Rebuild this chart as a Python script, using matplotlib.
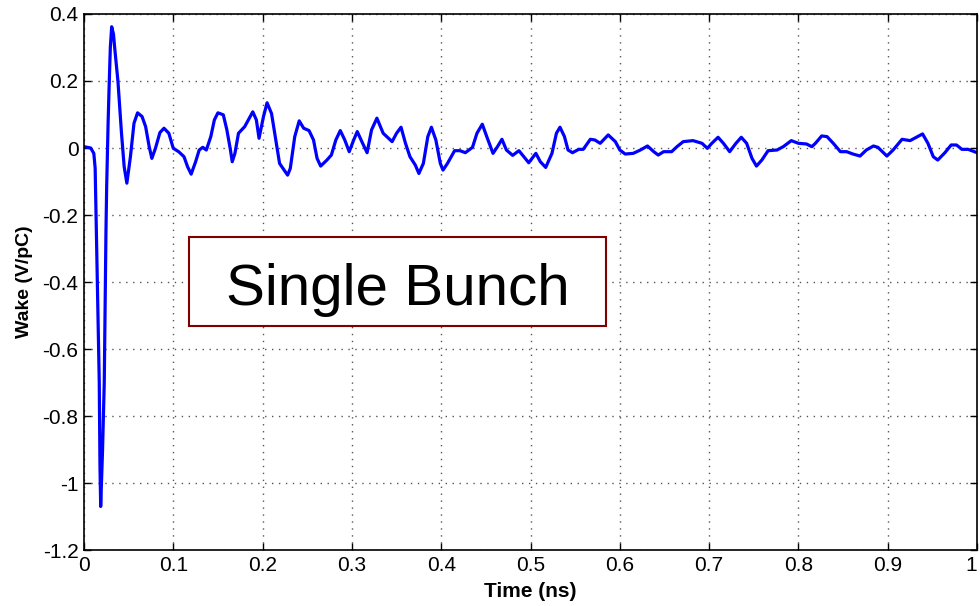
import matplotlib
matplotlib.use("Agg")
from matplotlib import pyplot as plt
from matplotlib.patches import Rectangle

# Wake data (time in ns, wake in V/pC)
time_ns = [0.0, 0.0075, 0.011, 0.0125, 0.0135, 0.0153, 0.0171, 0.0179, 0.0187, 0.0208,
           0.0227, 0.0246, 0.0254, 0.027, 0.028, 0.0295, 0.031, 0.033, 0.0347, 0.038,
           0.042, 0.045, 0.048, 0.052, 0.056, 0.060, 0.065, 0.069, 0.073, 0.076,
           0.080, 0.085, 0.0896, 0.095, 0.100, 0.106, 0.112, 0.116, 0.120, 0.125,
           0.129, 0.133, 0.137, 0.142, 0.146, 0.150, 0.156, 0.160, 0.164, 0.166,
           0.169, 0.173, 0.180, 0.189, 0.193, 0.196, 0.201, 0.205, 0.210, 0.216,
           0.219, 0.228, 0.231, 0.236, 0.241, 0.246, 0.252, 0.257, 0.261, 0.265,
           0.272, 0.277, 0.282, 0.287, 0.292, 0.297, 0.302, 0.306, 0.312, 0.317,
           0.322, 0.328, 0.335, 0.345, 0.350, 0.355, 0.360, 0.365, 0.371, 0.375,
           0.380, 0.385, 0.389, 0.394, 0.399, 0.402, 0.407, 0.415, 0.421, 0.427,
           0.435, 0.440, 0.446, 0.451, 0.458, 0.463, 0.468, 0.473, 0.480, 0.487,
           0.498, 0.506, 0.511, 0.517, 0.524, 0.529, 0.533, 0.538, 0.542, 0.547,
           0.554, 0.559, 0.567, 0.572, 0.578, 0.587, 0.595, 0.600, 0.606, 0.615,
           0.623, 0.631, 0.638, 0.643, 0.649, 0.658, 0.664, 0.671, 0.682, 0.692,
           0.698, 0.703, 0.710, 0.716, 0.723, 0.730, 0.736, 0.742, 0.748, 0.753,
           0.759, 0.766, 0.776, 0.783, 0.792, 0.800, 0.809, 0.815, 0.819, 0.826,
           0.832, 0.839, 0.847, 0.854, 0.861, 0.869, 0.876, 0.884, 0.889, 0.894,
           0.899, 0.906, 0.916, 0.925, 0.932, 0.939, 0.945, 0.951, 0.956, 0.964,
           0.971, 0.977, 0.983, 0.990, 1.0]
wake = [0.004, 0.0, -0.016, -0.06, -0.2, -0.45, -0.7, -0.95, -1.07, -0.9,
        -0.7, -0.25, -0.115, 0.074, 0.17, 0.3, 0.362, 0.34, 0.29, 0.2,
        0.044, -0.056, -0.105, -0.026, 0.074, 0.105, 0.094, 0.064, 0.004, -0.031,
        -0.001, 0.046, 0.059, 0.044, -0.001, -0.011, -0.026, -0.056, -0.078, -0.041,
        -0.006, 0.002, -0.006, 0.034, 0.084, 0.105, 0.099, 0.054, -0.006, -0.041,
        -0.016, 0.044, 0.064, 0.108, 0.084, 0.029, 0.094, 0.135, 0.103, 0.004,
        -0.046, -0.081, -0.061, 0.034, 0.081, 0.059, 0.052, 0.024, -0.031, -0.054,
        -0.036, -0.021, 0.024, 0.052, 0.024, -0.011, 0.024, 0.049, 0.014, -0.014,
        0.054, 0.089, 0.044, 0.019, 0.044, 0.062, 0.014, -0.026, -0.051, -0.076,
        -0.046, 0.034, 0.062, 0.024, -0.046, -0.066, -0.046, -0.008, -0.008, -0.014,
        0.002, 0.044, 0.071, 0.034, -0.016, 0.004, 0.026, -0.006, -0.022, -0.008,
        -0.044, -0.016, -0.041, -0.058, -0.016, 0.044, 0.062, 0.034, -0.006, -0.014,
        -0.004, -0.004, 0.026, 0.024, 0.014, 0.039, 0.019, -0.006, -0.018, -0.016,
        -0.006, 0.006, -0.011, -0.021, -0.011, -0.011, 0.004, 0.019, 0.022, 0.014,
        -0.001, 0.014, 0.032, 0.014, -0.011, 0.014, 0.032, 0.014, -0.031, -0.054,
        -0.036, -0.008, -0.006, 0.004, 0.022, 0.014, 0.012, 0.004, 0.014, 0.036,
        0.034, 0.014, -0.011, -0.011, -0.018, -0.024, -0.006, 0.006, 0.002, -0.011,
        -0.024, -0.006, 0.026, 0.022, 0.032, 0.042, 0.014, -0.026, -0.036, -0.014,
        0.009, 0.009, -0.004, -0.004, -0.014]

x_ticks = [0, 0.1, 0.2, 0.3, 0.4, 0.5, 0.6, 0.7, 0.8, 0.9, 1]
x_labels = ["0", "0.1", "0.2", "0.3", "0.4", "0.5", "0.6", "0.7", "0.8", "0.9", "1"]
y_ticks = [-1.2, -1, -0.8, -0.6, -0.4, -0.2, 0, 0.2, 0.4]
y_labels = ["-1.2", "-1", "-0.8", "-0.6", "-0.4", "-0.2", "0", "0.2", "0.4"]

plt.rcParams['font.family'] = ['Liberation Sans', 'DejaVu Sans']

fig = plt.figure(figsize=(9.8, 6.06), dpi=100)
ax = fig.add_axes([0.0857, 0.0924, 0.9113, 0.8845])

ax.plot(time_ns, wake, color="#0000ff", linewidth=2.3, solid_joinstyle="round")

ax.set_xlim(0, 1)
ax.set_ylim(-1.2, 0.4)
ax.set_xticks(x_ticks)
ax.set_xticklabels(x_labels)
ax.set_yticks(y_ticks)
ax.set_yticklabels(y_labels)
ax.tick_params(direction="in", length=5, width=1, top=True, right=True,
               labelsize=15, pad=4)
# last label sits on the figure edge, keep it inside
ax.get_xticklabels()[-1].set_horizontalalignment("right")
ax.grid(True, linestyle=(0, (1, 4)), color="#555555", linewidth=1)
for side in ax.spines.values():
    side.set_linewidth(1.2)

ax.set_xlabel("Time (ns)", fontsize=15, fontweight="bold", labelpad=5)
ax.set_ylabel("Wake (V/pC)", fontsize=14, fontweight="bold", labelpad=7)

# annotation box
ax.add_patch(Rectangle((0.1176, -0.531), 0.467, 0.2657, facecolor="white",
                       edgecolor="#800000", linewidth=1.5, zorder=5))
ax.text(0.351, -0.4687, "Single Bunch", fontsize=42, ha="center", va="baseline",
        zorder=6)

fig.savefig("out.png", dpi=100)
